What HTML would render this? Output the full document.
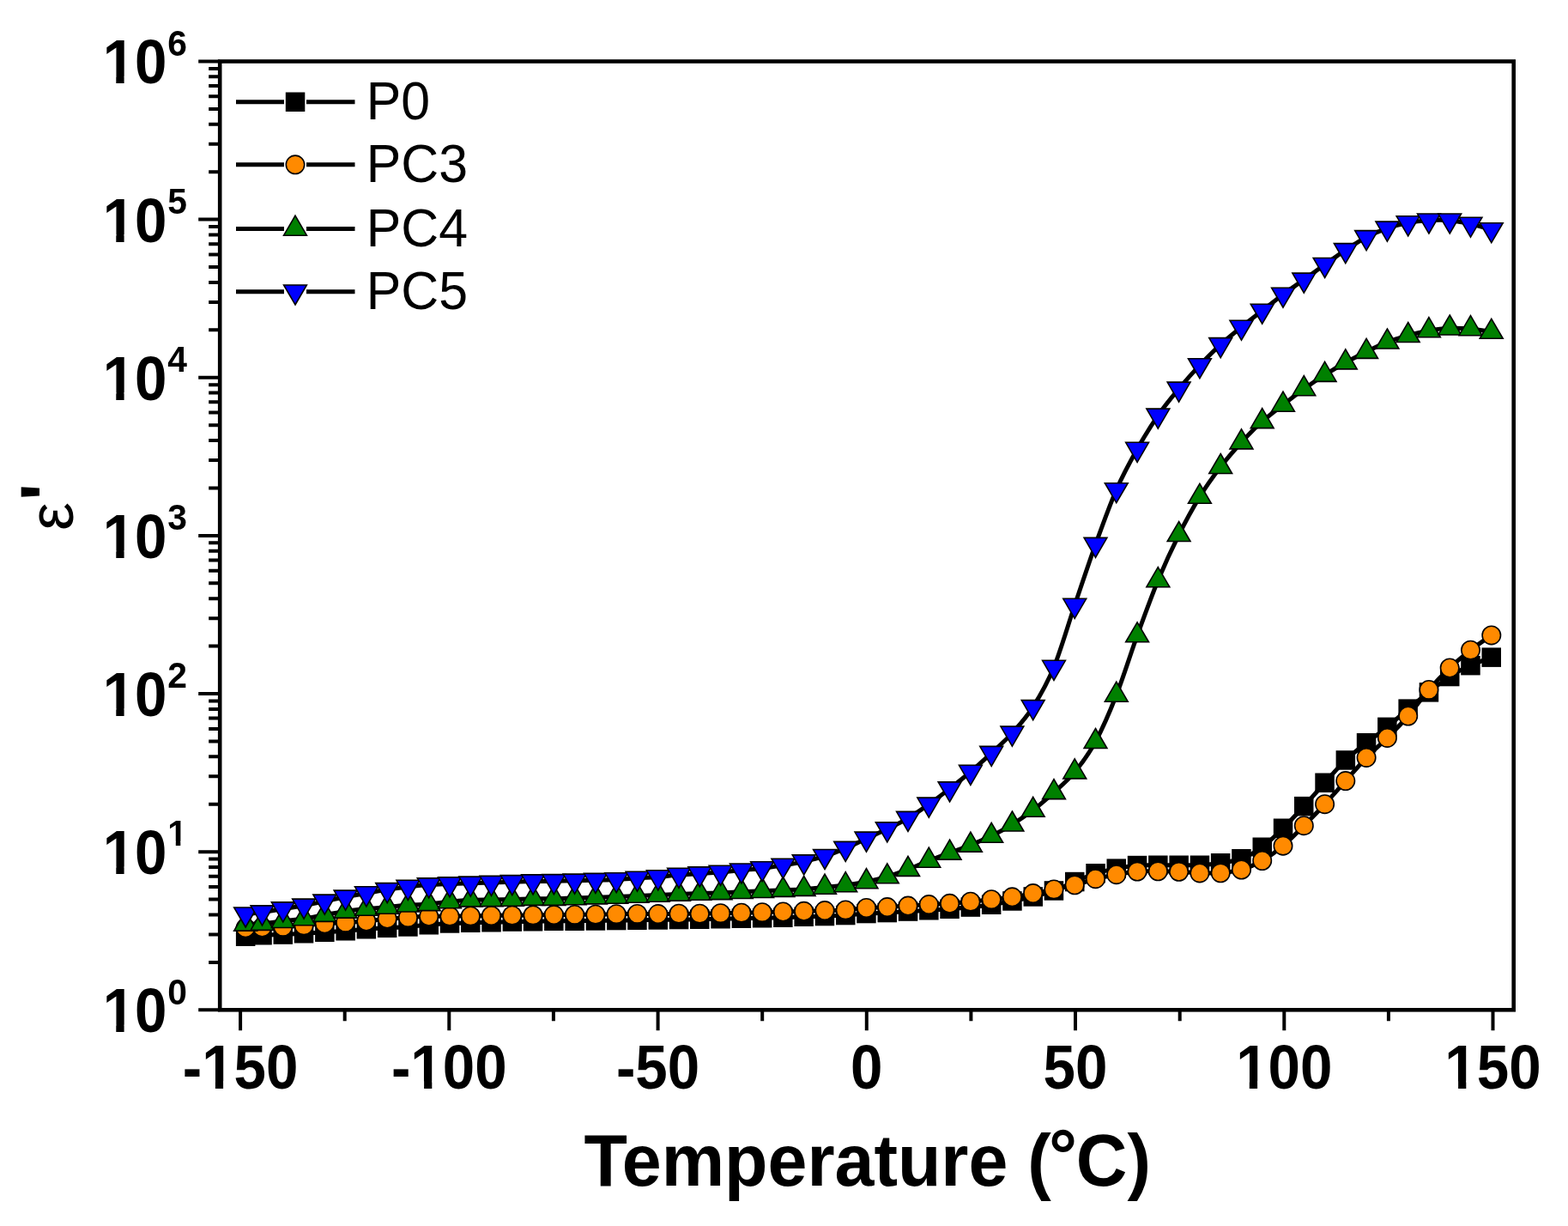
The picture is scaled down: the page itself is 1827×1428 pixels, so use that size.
<!DOCTYPE html>
<html><head><meta charset="utf-8"><title>Plot</title><style>
html,body{margin:0;padding:0;background:#fff;}
body{width:1827px;height:1428px;overflow:hidden;}
svg{display:block;}
text{font-family:"Liberation Sans",Arial,sans-serif;fill:#000;}
.tb{font-size:72px;font-weight:bold;}
.ts{font-size:43px;font-weight:bold;}
.lg{font-size:63px;}
.tt{font-size:86px;font-weight:bold;}

.ye{font-size:74px;}
.pr{font-size:86px;font-weight:bold;}
</style></head><body>
<svg width="1827" height="1428" viewBox="0 0 1827 1428">
<rect width="1827" height="1428" fill="#fff"/>
<rect x="256.2" y="71.5" width="1507.5" height="1104.8" fill="none" stroke="#000" stroke-width="4.6"/>
<path d="M231.2 1176.3H256.2M243.2 1120.9H256.2M243.2 1088.4H256.2M243.2 1065.4H256.2M243.2 1047.6H256.2M243.2 1033H256.2M243.2 1020.7H256.2M243.2 1010H256.2M243.2 1000.6H256.2M231.2 992.2H256.2M243.2 936.7H256.2M243.2 904.3H256.2M243.2 881.3H256.2M243.2 863.5H256.2M243.2 848.9H256.2M243.2 836.6H256.2M243.2 825.9H256.2M243.2 816.5H256.2M231.2 808H256.2M243.2 752.6H256.2M243.2 720.2H256.2M243.2 697.2H256.2M243.2 679.3H256.2M243.2 664.7H256.2M243.2 652.4H256.2M243.2 641.7H256.2M243.2 632.3H256.2M231.2 623.9H256.2M243.2 568.5H256.2M243.2 536H256.2M243.2 513H256.2M243.2 495.2H256.2M243.2 480.6H256.2M243.2 468.3H256.2M243.2 457.6H256.2M243.2 448.2H256.2M231.2 439.8H256.2M243.2 384.3H256.2M243.2 351.9H256.2M243.2 328.9H256.2M243.2 311.1H256.2M243.2 296.5H256.2M243.2 284.2H256.2M243.2 273.5H256.2M243.2 264.1H256.2M231.2 255.6H256.2M243.2 200.2H256.2M243.2 167.8H256.2M243.2 144.8H256.2M243.2 126.9H256.2M243.2 112.3H256.2M243.2 100H256.2M243.2 89.3H256.2M243.2 79.9H256.2M231.2 71.5H256.2M280.1 1176.3V1200.3M401.7 1176.3V1189.3M523.3 1176.3V1200.3M644.9 1176.3V1189.3M766.6 1176.3V1200.3M888.2 1176.3V1189.3M1009.8 1176.3V1200.3M1131.4 1176.3V1189.3M1253 1176.3V1200.3M1374.7 1176.3V1189.3M1496.3 1176.3V1200.3M1617.9 1176.3V1189.3M1739.5 1176.3V1200.3" stroke="#000" stroke-width="4" fill="none"/>
<path d="M286.1 1090.7C289.3 1090.5 298.2 1089.7 305.5 1089.3C312.8 1088.9 321.7 1088.9 329.8 1088.6C337.9 1088.2 346 1087.7 354.1 1087.2C362.2 1086.7 370.3 1086.3 378.3 1085.8C386.4 1085.3 394.5 1084.9 402.6 1084.3C410.7 1083.7 418.8 1082.8 426.9 1082.2C435 1081.6 443.1 1081.3 451.2 1080.8C459.3 1080.3 467.4 1080 475.4 1079.4C483.5 1078.8 491.6 1077.9 499.7 1077.2C507.8 1076.5 515.9 1075.9 524 1075.5C532.1 1075.1 540.2 1075 548.3 1074.8C556.4 1074.6 564.5 1074.5 572.5 1074.3C580.6 1074.1 588.7 1073.8 596.8 1073.6C604.9 1073.4 613 1073.4 621.1 1073.3C629.2 1073.2 637.3 1072.9 645.4 1072.8C653.5 1072.7 661.6 1072.9 669.6 1072.8C677.7 1072.7 685.8 1072.5 693.9 1072.4C702 1072.3 710.1 1072.2 718.2 1072.1C726.3 1072 734.4 1071.9 742.5 1071.8C750.6 1071.7 758.7 1071.5 766.8 1071.4C774.8 1071.3 782.9 1071.2 791 1071.1C799.1 1071 807.2 1070.8 815.3 1070.7C823.4 1070.6 831.5 1070.4 839.6 1070.2C847.7 1070 855.8 1069.9 863.9 1069.7C871.9 1069.5 880 1069.5 888.1 1069.3C896.2 1069.1 904.3 1069 912.4 1068.8C920.5 1068.5 928.6 1068.1 936.7 1067.8C944.8 1067.5 952.9 1067.4 961 1067.1C969 1066.8 977.1 1066.5 985.2 1066C993.3 1065.5 1001.4 1064.5 1009.5 1064C1017.6 1063.5 1025.7 1063.4 1033.8 1063C1041.9 1062.6 1050 1062.1 1058 1061.6C1066.1 1061.1 1074.2 1060.7 1082.3 1060.2C1090.4 1059.7 1098.5 1059.3 1106.6 1058.7C1114.7 1058.1 1122.8 1057.4 1130.9 1056.6C1139 1055.8 1147.1 1054.9 1155.2 1053.7C1163.2 1052.5 1171.3 1051 1179.4 1049.5C1187.5 1048 1195.6 1046.5 1203.7 1044.5C1211.8 1042.5 1219.9 1040.3 1228 1037.4C1236.1 1034.5 1244.2 1030.3 1252.2 1027C1260.3 1023.6 1268.4 1019.9 1276.5 1017.3C1284.6 1014.7 1292.7 1013.1 1300.8 1011.6C1308.9 1010.1 1317 1008.6 1325.1 1008C1333.2 1007.4 1341.3 1007.8 1349.3 1007.7C1357.4 1007.7 1365.5 1007.7 1373.6 1007.7C1381.7 1007.7 1389.8 1008.1 1397.9 1007.7C1406 1007.3 1414.1 1006.5 1422.2 1005.2C1430.3 1004 1438.4 1003.3 1446.5 1000.2C1454.5 997.1 1462.6 992.6 1470.7 986.7C1478.8 980.8 1486.9 972.6 1495 964.7C1503.1 956.8 1511.2 947.9 1519.3 939.1C1527.4 930.3 1535.5 920.6 1543.6 911.7C1551.6 902.8 1559.7 893.2 1567.8 885.5C1575.9 877.8 1584 871.7 1592.1 865.3C1600.2 858.9 1608.3 853.5 1616.4 846.9C1624.5 840.3 1632.6 832.4 1640.7 825.6C1648.7 818.9 1656.8 812.7 1664.9 806.4C1673 800.1 1681.1 793.2 1689.2 788C1697.3 782.8 1705.4 778.8 1713.5 775.1C1721.6 771.4 1733.7 767.2 1737.8 765.6" fill="none" stroke="#000" stroke-width="5" stroke-linejoin="round"/>
<g fill="#000" stroke="none" stroke-width="0"><rect x="274.9" y="1079.5" width="22.5" height="22.5"/><rect x="294.3" y="1078" width="22.5" height="22.5"/><rect x="318.5" y="1077.3" width="22.5" height="22.5"/><rect x="342.8" y="1076" width="22.5" height="22.5"/><rect x="367.1" y="1074.5" width="22.5" height="22.5"/><rect x="391.4" y="1073" width="22.5" height="22.5"/><rect x="415.6" y="1071" width="22.5" height="22.5"/><rect x="439.9" y="1069.5" width="22.5" height="22.5"/><rect x="464.2" y="1068.2" width="22.5" height="22.5"/><rect x="488.5" y="1066" width="22.5" height="22.5"/><rect x="512.8" y="1064.2" width="22.5" height="22.5"/><rect x="537" y="1063.5" width="22.5" height="22.5"/><rect x="561.3" y="1063" width="22.5" height="22.5"/><rect x="585.6" y="1062.3" width="22.5" height="22.5"/><rect x="609.8" y="1062" width="22.5" height="22.5"/><rect x="634.1" y="1061.5" width="22.5" height="22.5"/><rect x="658.4" y="1061.5" width="22.5" height="22.5"/><rect x="682.7" y="1061.2" width="22.5" height="22.5"/><rect x="707" y="1060.8" width="22.5" height="22.5"/><rect x="731.2" y="1060.5" width="22.5" height="22.5"/><rect x="755.5" y="1060.2" width="22.5" height="22.5"/><rect x="779.8" y="1059.8" width="22.5" height="22.5"/><rect x="804" y="1059.5" width="22.5" height="22.5"/><rect x="828.3" y="1059" width="22.5" height="22.5"/><rect x="852.6" y="1058.5" width="22.5" height="22.5"/><rect x="876.9" y="1058" width="22.5" height="22.5"/><rect x="901.1" y="1057.5" width="22.5" height="22.5"/><rect x="925.4" y="1056.5" width="22.5" height="22.5"/><rect x="949.7" y="1055.8" width="22.5" height="22.5"/><rect x="974" y="1054.8" width="22.5" height="22.5"/><rect x="998.2" y="1052.8" width="22.5" height="22.5"/><rect x="1022.5" y="1051.8" width="22.5" height="22.5"/><rect x="1046.8" y="1050.3" width="22.5" height="22.5"/><rect x="1071.1" y="1049" width="22.5" height="22.5"/><rect x="1095.3" y="1047.5" width="22.5" height="22.5"/><rect x="1119.6" y="1045.3" width="22.5" height="22.5"/><rect x="1143.9" y="1042.5" width="22.5" height="22.5"/><rect x="1168.2" y="1038.2" width="22.5" height="22.5"/><rect x="1192.5" y="1033.2" width="22.5" height="22.5"/><rect x="1216.7" y="1026.2" width="22.5" height="22.5"/><rect x="1241" y="1015.8" width="22.5" height="22.5"/><rect x="1265.3" y="1006" width="22.5" height="22.5"/><rect x="1289.5" y="1000.4" width="22.5" height="22.5"/><rect x="1313.8" y="996.8" width="22.5" height="22.5"/><rect x="1338.1" y="996.5" width="22.5" height="22.5"/><rect x="1362.4" y="996.5" width="22.5" height="22.5"/><rect x="1386.7" y="996.5" width="22.5" height="22.5"/><rect x="1410.9" y="994" width="22.5" height="22.5"/><rect x="1435.2" y="989" width="22.5" height="22.5"/><rect x="1459.5" y="975.5" width="22.5" height="22.5"/><rect x="1483.8" y="953.5" width="22.5" height="22.5"/><rect x="1508" y="927.9" width="22.5" height="22.5"/><rect x="1532.3" y="900.5" width="22.5" height="22.5"/><rect x="1556.6" y="874.2" width="22.5" height="22.5"/><rect x="1580.8" y="854" width="22.5" height="22.5"/><rect x="1605.1" y="835.6" width="22.5" height="22.5"/><rect x="1629.4" y="814.4" width="22.5" height="22.5"/><rect x="1653.7" y="795.1" width="22.5" height="22.5"/><rect x="1678" y="776.8" width="22.5" height="22.5"/><rect x="1702.2" y="763.9" width="22.5" height="22.5"/><rect x="1726.5" y="754.4" width="22.5" height="22.5"/></g>

<path d="M286.1 1080.8C289.3 1080.7 298.2 1080.3 305.5 1080.1C312.8 1079.9 321.7 1079.8 329.8 1079.4C337.9 1079 346 1078.5 354.1 1077.9C362.2 1077.3 370.3 1076.4 378.3 1075.8C386.4 1075.2 394.5 1074.9 402.6 1074.4C410.7 1073.9 418.8 1073.7 426.9 1073C435 1072.3 443.1 1070.8 451.2 1070.1C459.3 1069.4 467.4 1069.2 475.4 1068.7C483.5 1068.2 491.6 1067.5 499.7 1067.3C507.8 1067 515.9 1067.3 524 1067.2C532.1 1067.1 540.2 1067 548.3 1066.9C556.4 1066.8 564.5 1066.6 572.5 1066.5C580.6 1066.4 588.7 1066.3 596.8 1066.2C604.9 1066.1 613 1066 621.1 1065.9C629.2 1065.8 637.3 1065.7 645.4 1065.6C653.5 1065.5 661.6 1065.5 669.6 1065.4C677.7 1065.3 685.8 1065.3 693.9 1065.2C702 1065.1 710.1 1064.8 718.2 1064.7C726.3 1064.6 734.4 1064.4 742.5 1064.4C750.6 1064.4 758.7 1064.6 766.8 1064.6C774.8 1064.6 782.9 1064.3 791 1064.2C799.1 1064.1 807.2 1064.3 815.3 1064.2C823.4 1064.1 831.5 1063.9 839.6 1063.7C847.7 1063.5 855.8 1063.4 863.9 1063.2C871.9 1063 880 1062.9 888.1 1062.7C896.2 1062.5 904.3 1062.2 912.4 1062C920.5 1061.8 928.6 1061.5 936.7 1061.3C944.8 1061.1 952.9 1060.8 961 1060.6C969 1060.4 977.1 1060.4 985.2 1059.9C993.3 1059.4 1001.4 1058 1009.5 1057.5C1017.6 1057 1025.7 1057 1033.8 1056.6C1041.9 1056.2 1050 1055.6 1058 1055.1C1066.1 1054.6 1074.2 1054.1 1082.3 1053.6C1090.4 1053.1 1098.5 1052.9 1106.6 1052.3C1114.7 1051.7 1122.8 1051 1130.9 1050.2C1139 1049.4 1147.1 1048.6 1155.2 1047.7C1163.2 1046.8 1171.3 1046 1179.4 1044.8C1187.5 1043.6 1195.6 1042.1 1203.7 1040.6C1211.8 1039.1 1219.9 1037.5 1228 1035.9C1236.1 1034.3 1244.2 1032.8 1252.2 1030.8C1260.3 1028.8 1268.4 1025.7 1276.5 1023.7C1284.6 1021.7 1292.7 1020.1 1300.8 1018.7C1308.9 1017.3 1317 1015.8 1325.1 1015.1C1333.2 1014.5 1341.3 1014.8 1349.3 1014.8C1357.4 1014.8 1365.5 1014.9 1373.6 1015.3C1381.7 1015.6 1389.8 1016.6 1397.9 1016.9C1406 1017.1 1414.1 1017.4 1422.2 1016.8C1430.3 1016.1 1438.4 1015.4 1446.5 1013C1454.5 1010.6 1462.6 1007.1 1470.7 1002.5C1478.8 997.9 1486.9 992 1495 985.2C1503.1 978.4 1511.2 969.8 1519.3 961.7C1527.4 953.6 1535.5 945.4 1543.6 936.7C1551.6 928 1559.7 918.7 1567.8 909.6C1575.9 900.5 1584 890.8 1592.1 882.4C1600.2 874 1608.3 867.5 1616.4 859.4C1624.5 851.3 1632.6 843.3 1640.7 834C1648.7 824.7 1656.8 812.7 1664.9 803.4C1673 794.1 1681.1 785.7 1689.2 778C1697.3 770.3 1705.4 763.6 1713.5 757.2C1721.6 750.9 1733.7 742.8 1737.8 739.9" fill="none" stroke="#000" stroke-width="5" stroke-linejoin="round"/>
<g fill="#FF8A00" stroke="#000" stroke-width="1.6"><circle cx="286.1" cy="1080.8" r="10.7"/><circle cx="305.5" cy="1080.1" r="10.7"/><circle cx="329.8" cy="1079.4" r="10.7"/><circle cx="354.1" cy="1077.9" r="10.7"/><circle cx="378.3" cy="1075.8" r="10.7"/><circle cx="402.6" cy="1074.4" r="10.7"/><circle cx="426.9" cy="1073" r="10.7"/><circle cx="451.2" cy="1070.1" r="10.7"/><circle cx="475.4" cy="1068.7" r="10.7"/><circle cx="499.7" cy="1067.3" r="10.7"/><circle cx="524" cy="1067.2" r="10.7"/><circle cx="548.3" cy="1066.9" r="10.7"/><circle cx="572.5" cy="1066.5" r="10.7"/><circle cx="596.8" cy="1066.2" r="10.7"/><circle cx="621.1" cy="1065.9" r="10.7"/><circle cx="645.4" cy="1065.6" r="10.7"/><circle cx="669.6" cy="1065.4" r="10.7"/><circle cx="693.9" cy="1065.2" r="10.7"/><circle cx="718.2" cy="1064.7" r="10.7"/><circle cx="742.5" cy="1064.4" r="10.7"/><circle cx="766.8" cy="1064.6" r="10.7"/><circle cx="791" cy="1064.2" r="10.7"/><circle cx="815.3" cy="1064.2" r="10.7"/><circle cx="839.6" cy="1063.7" r="10.7"/><circle cx="863.9" cy="1063.2" r="10.7"/><circle cx="888.1" cy="1062.7" r="10.7"/><circle cx="912.4" cy="1062" r="10.7"/><circle cx="936.7" cy="1061.3" r="10.7"/><circle cx="961" cy="1060.6" r="10.7"/><circle cx="985.2" cy="1059.9" r="10.7"/><circle cx="1009.5" cy="1057.5" r="10.7"/><circle cx="1033.8" cy="1056.6" r="10.7"/><circle cx="1058" cy="1055.1" r="10.7"/><circle cx="1082.3" cy="1053.6" r="10.7"/><circle cx="1106.6" cy="1052.3" r="10.7"/><circle cx="1130.9" cy="1050.2" r="10.7"/><circle cx="1155.2" cy="1047.7" r="10.7"/><circle cx="1179.4" cy="1044.8" r="10.7"/><circle cx="1203.7" cy="1040.6" r="10.7"/><circle cx="1228" cy="1035.9" r="10.7"/><circle cx="1252.2" cy="1030.8" r="10.7"/><circle cx="1276.5" cy="1023.7" r="10.7"/><circle cx="1300.8" cy="1018.7" r="10.7"/><circle cx="1325.1" cy="1015.1" r="10.7"/><circle cx="1349.3" cy="1014.8" r="10.7"/><circle cx="1373.6" cy="1015.3" r="10.7"/><circle cx="1397.9" cy="1016.9" r="10.7"/><circle cx="1422.2" cy="1016.8" r="10.7"/><circle cx="1446.5" cy="1013" r="10.7"/><circle cx="1470.7" cy="1002.5" r="10.7"/><circle cx="1495" cy="985.2" r="10.7"/><circle cx="1519.3" cy="961.7" r="10.7"/><circle cx="1543.6" cy="936.7" r="10.7"/><circle cx="1567.8" cy="909.6" r="10.7"/><circle cx="1592.1" cy="882.4" r="10.7"/><circle cx="1616.4" cy="859.4" r="10.7"/><circle cx="1640.7" cy="834" r="10.7"/><circle cx="1664.9" cy="803.4" r="10.7"/><circle cx="1689.2" cy="778" r="10.7"/><circle cx="1713.5" cy="757.2" r="10.7"/><circle cx="1737.8" cy="739.9" r="10.7"/></g>

<path d="M286.1 1076.4C289.3 1076.3 298.2 1076.3 305.5 1075.7C312.8 1075.1 321.7 1073.8 329.8 1072.8C337.9 1071.8 346 1071.2 354.1 1070C362.2 1068.8 370.3 1067.1 378.3 1065.7C386.4 1064.3 394.5 1062.6 402.6 1061.4C410.7 1060.2 418.8 1059.4 426.9 1058.6C435 1057.8 443.1 1057.2 451.2 1056.5C459.3 1055.8 467.4 1054.9 475.4 1054.3C483.5 1053.7 491.6 1053.6 499.7 1052.9C507.8 1052.2 515.9 1050.8 524 1050C532.1 1049.2 540.2 1048.5 548.3 1048.2C556.4 1047.9 564.5 1048 572.5 1047.9C580.6 1047.8 588.7 1047.7 596.8 1047.5C604.9 1047.3 613 1046.8 621.1 1046.7C629.2 1046.6 637.3 1046.8 645.4 1046.7C653.5 1046.6 661.6 1046.2 669.6 1046C677.7 1045.8 685.8 1045.5 693.9 1045.2C702 1045 710.1 1044.8 718.2 1044.5C726.3 1044.2 734.4 1043.8 742.5 1043.5C750.6 1043.2 758.7 1042.8 766.8 1042.5C774.8 1042.2 782.9 1041.7 791 1041.4C799.1 1041.1 807.2 1040.8 815.3 1040.6C823.4 1040.3 831.5 1040.2 839.6 1039.9C847.7 1039.6 855.8 1039.2 863.9 1038.8C871.9 1038.4 880 1038.1 888.1 1037.8C896.2 1037.5 904.3 1037 912.4 1036.7C920.5 1036.4 928.6 1036.2 936.7 1035.7C944.8 1035.2 952.9 1034.3 961 1033.5C969 1032.7 977.1 1032.1 985.2 1031C993.3 1029.9 1001.4 1028.7 1009.5 1027C1017.6 1025.3 1025.7 1023.5 1033.8 1021.1C1041.9 1018.7 1050 1015.8 1058 1012.7C1066.1 1009.6 1074.2 1005.7 1082.3 1002.5C1090.4 999.3 1098.5 996.4 1106.6 993.4C1114.7 990.4 1122.8 987.7 1130.9 984.4C1139 981.1 1147.1 977.6 1155.2 973.6C1163.2 969.6 1171.3 965.3 1179.4 960.3C1187.5 955.3 1195.6 949.8 1203.7 943.6C1211.8 937.4 1219.9 930.3 1228 922.9C1236.1 915.5 1244.2 909.1 1252.2 899.2C1260.3 889.4 1268.4 878.8 1276.5 863.8C1284.6 848.8 1292.7 830.1 1300.8 809.5C1308.9 788.9 1317 762.4 1325.1 740.1C1333.2 717.9 1341.3 695.5 1349.3 676C1357.4 656.5 1365.5 639 1373.6 622.8C1381.7 606.6 1389.8 591.8 1397.9 578.6C1406 565.4 1414.1 554.4 1422.2 543.8C1430.3 533.2 1438.4 524 1446.5 515.2C1454.5 506.4 1462.6 498.2 1470.7 490.9C1478.8 483.6 1486.9 477.8 1495 471.5C1503.1 465.2 1511.2 458.8 1519.3 453C1527.4 447.2 1535.5 441.8 1543.6 436.7C1551.6 431.6 1559.7 426.7 1567.8 422.2C1575.9 417.7 1584 413.7 1592.1 409.7C1600.2 405.7 1608.3 401.4 1616.4 398.3C1624.5 395.2 1632.6 393 1640.7 390.8C1648.7 388.6 1656.8 386.4 1664.9 385C1673 383.6 1681.1 382.6 1689.2 382.3C1697.3 382 1705.4 382.3 1713.5 383C1721.6 383.7 1733.7 386 1737.8 386.6" fill="none" stroke="#000" stroke-width="5" stroke-linejoin="round"/>
<g fill="#008000" stroke="#000" stroke-width="1.6"><path d="M286.1 1061.1L299.5 1084.1L272.7 1084.1Z"/><path d="M305.5 1060.4L318.9 1083.4L292.1 1083.4Z"/><path d="M329.8 1057.5L343.2 1080.5L316.4 1080.5Z"/><path d="M354.1 1054.7L367.5 1077.7L340.7 1077.7Z"/><path d="M378.3 1050.4L391.7 1073.4L364.9 1073.4Z"/><path d="M402.6 1046.1L416 1069.1L389.2 1069.1Z"/><path d="M426.9 1043.3L440.3 1066.3L413.5 1066.3Z"/><path d="M451.2 1041.2L464.6 1064.2L437.8 1064.2Z"/><path d="M475.4 1039L488.8 1062L462 1062Z"/><path d="M499.7 1037.6L513.1 1060.6L486.3 1060.6Z"/><path d="M524 1034.7L537.4 1057.7L510.6 1057.7Z"/><path d="M548.3 1032.9L561.7 1055.9L534.9 1055.9Z"/><path d="M572.5 1032.6L585.9 1055.6L559.1 1055.6Z"/><path d="M596.8 1032.2L610.2 1055.2L583.4 1055.2Z"/><path d="M621.1 1031.4L634.5 1054.4L607.7 1054.4Z"/><path d="M645.4 1031.4L658.8 1054.4L632 1054.4Z"/><path d="M669.6 1030.7L683 1053.7L656.2 1053.7Z"/><path d="M693.9 1029.9L707.3 1052.9L680.5 1052.9Z"/><path d="M718.2 1029.2L731.6 1052.2L704.8 1052.2Z"/><path d="M742.5 1028.2L755.9 1051.2L729.1 1051.2Z"/><path d="M766.8 1027.2L780.1 1050.2L753.4 1050.2Z"/><path d="M791 1026.1L804.4 1049.1L777.6 1049.1Z"/><path d="M815.3 1025.3L828.7 1048.3L801.9 1048.3Z"/><path d="M839.6 1024.6L853 1047.6L826.2 1047.6Z"/><path d="M863.9 1023.5L877.2 1046.5L850.5 1046.5Z"/><path d="M888.1 1022.5L901.5 1045.5L874.7 1045.5Z"/><path d="M912.4 1021.4L925.8 1044.4L899 1044.4Z"/><path d="M936.7 1020.4L950.1 1043.4L923.3 1043.4Z"/><path d="M961 1018.2L974.4 1041.2L947.6 1041.2Z"/><path d="M985.2 1015.7L998.6 1038.7L971.8 1038.7Z"/><path d="M1009.5 1011.7L1022.9 1034.7L996.1 1034.7Z"/><path d="M1033.8 1005.8L1047.2 1028.8L1020.4 1028.8Z"/><path d="M1058 997.4L1071.5 1020.4L1044.6 1020.4Z"/><path d="M1082.3 987.2L1095.7 1010.2L1068.9 1010.2Z"/><path d="M1106.6 978.1L1120 1001.1L1093.2 1001.1Z"/><path d="M1130.9 969.1L1144.3 992.1L1117.5 992.1Z"/><path d="M1155.2 958.3L1168.6 981.3L1141.8 981.3Z"/><path d="M1179.4 945L1192.8 968L1166 968Z"/><path d="M1203.7 928.3L1217.1 951.3L1190.3 951.3Z"/><path d="M1228 907.6L1241.4 930.6L1214.6 930.6Z"/><path d="M1252.2 883.9L1265.7 906.9L1238.8 906.9Z"/><path d="M1276.5 848.5L1289.9 871.5L1263.1 871.5Z"/><path d="M1300.8 794.2L1314.2 817.2L1287.4 817.2Z"/><path d="M1325.1 724.8L1338.5 747.8L1311.7 747.8Z"/><path d="M1349.3 660.7L1362.8 683.7L1335.9 683.7Z"/><path d="M1373.6 607.5L1387 630.5L1360.2 630.5Z"/><path d="M1397.9 563.3L1411.3 586.3L1384.5 586.3Z"/><path d="M1422.2 528.5L1435.6 551.5L1408.8 551.5Z"/><path d="M1446.5 499.9L1459.9 522.9L1433 522.9Z"/><path d="M1470.7 475.6L1484.1 498.6L1457.3 498.6Z"/><path d="M1495 456.2L1508.4 479.2L1481.6 479.2Z"/><path d="M1519.3 437.7L1532.7 460.7L1505.9 460.7Z"/><path d="M1543.6 421.4L1557 444.4L1530.2 444.4Z"/><path d="M1567.8 406.9L1581.2 429.9L1554.4 429.9Z"/><path d="M1592.1 394.4L1605.5 417.4L1578.7 417.4Z"/><path d="M1616.4 383L1629.8 406L1603 406Z"/><path d="M1640.7 375.5L1654.1 398.5L1627.2 398.5Z"/><path d="M1664.9 369.7L1678.3 392.7L1651.5 392.7Z"/><path d="M1689.2 367L1702.6 390L1675.8 390Z"/><path d="M1713.5 367.7L1726.9 390.7L1700.1 390.7Z"/><path d="M1737.8 371.3L1751.2 394.3L1724.3 394.3Z"/></g>

<path d="M286.1 1064.7C289.3 1064.3 298.2 1063.6 305.5 1062.6C312.8 1061.6 321.7 1059.9 329.8 1058.6C337.9 1057.3 346 1056.3 354.1 1054.8C362.2 1053.3 370.3 1051.5 378.3 1049.8C386.4 1048.1 394.5 1046.3 402.6 1044.8C410.7 1043.2 418.8 1041.9 426.9 1040.5C435 1039.1 443.1 1037.5 451.2 1036.3C459.3 1035 467.4 1034 475.4 1033C483.5 1032 491.6 1031.2 499.7 1030.6C507.8 1030 515.9 1029.9 524 1029.6C532.1 1029.3 540.2 1029 548.3 1028.8C556.4 1028.5 564.5 1028.3 572.5 1028.1C580.6 1027.8 588.7 1027.5 596.8 1027.3C604.9 1027 613 1026.8 621.1 1026.6C629.2 1026.4 637.3 1026.4 645.4 1026.3C653.5 1026.2 661.6 1026 669.6 1025.8C677.7 1025.6 685.8 1025.3 693.9 1025.1C702 1024.9 710.1 1024.8 718.2 1024.4C726.3 1024 734.4 1023.4 742.5 1022.9C750.6 1022.4 758.7 1022.1 766.8 1021.5C774.8 1020.9 782.9 1019.6 791 1019C799.1 1018.4 807.2 1018.1 815.3 1017.6C823.4 1017.1 831.5 1016.6 839.6 1016C847.7 1015.4 855.8 1014.5 863.9 1013.7C871.9 1012.9 880 1012.4 888.1 1011.4C896.2 1010.4 904.3 1009.2 912.4 1007.9C920.5 1006.6 928.6 1005.4 936.7 1003.6C944.8 1001.8 952.9 999.8 961 997.2C969 994.6 977.1 991.5 985.2 988.1C993.3 984.7 1001.4 980.5 1009.5 976.8C1017.6 973 1025.7 969.5 1033.8 965.6C1041.9 961.7 1050 957.9 1058 953.1C1066.1 948.3 1074.2 942.5 1082.3 936.8C1090.4 931 1098.5 924.9 1106.6 918.6C1114.7 912.3 1122.8 905.9 1130.9 899C1139 892.1 1147.1 884.6 1155.2 877.1C1163.2 869.6 1171.3 862.8 1179.4 853.8C1187.5 844.8 1195.6 836.1 1203.7 823.3C1211.8 810.5 1219.9 796.7 1228 777C1236.1 757.3 1244.2 728.8 1252.2 705C1260.3 681.2 1268.4 656.5 1276.5 634.1C1284.6 611.7 1292.7 588.9 1300.8 570.4C1308.9 551.9 1317 537.4 1325.1 523C1333.2 508.6 1341.3 495.5 1349.3 483.8C1357.4 472.1 1365.5 462.5 1373.6 452.8C1381.7 443.1 1389.8 434 1397.9 425.4C1406 416.8 1414.1 408.7 1422.2 401.3C1430.3 393.9 1438.4 387.5 1446.5 380.9C1454.5 374.3 1462.6 368.2 1470.7 361.9C1478.8 355.6 1486.9 348.9 1495 342.9C1503.1 336.9 1511.2 331.6 1519.3 325.8C1527.4 320 1535.5 313.9 1543.6 308.2C1551.6 302.4 1559.7 296.6 1567.8 291.3C1575.9 286 1584 280.6 1592.1 276.3C1600.2 272.1 1608.3 268.6 1616.4 265.8C1624.5 263 1632.6 261 1640.7 259.5C1648.7 258 1656.8 257.2 1664.9 256.7C1673 256.2 1681.1 256 1689.2 256.7C1697.3 257.4 1705.4 259.1 1713.5 260.9C1721.6 262.7 1733.7 266.3 1737.8 267.4" fill="none" stroke="#000" stroke-width="5" stroke-linejoin="round"/>
<g fill="#0000FF" stroke="#000" stroke-width="1.6"><path d="M286.1 1080L299.5 1057L272.7 1057Z"/><path d="M305.5 1077.9L318.9 1054.9L292.1 1054.9Z"/><path d="M329.8 1073.9L343.2 1050.9L316.4 1050.9Z"/><path d="M354.1 1070.1L367.5 1047.1L340.7 1047.1Z"/><path d="M378.3 1065.1L391.7 1042.1L364.9 1042.1Z"/><path d="M402.6 1060.1L416 1037.1L389.2 1037.1Z"/><path d="M426.9 1055.8L440.3 1032.8L413.5 1032.8Z"/><path d="M451.2 1051.6L464.6 1028.6L437.8 1028.6Z"/><path d="M475.4 1048.3L488.8 1025.3L462 1025.3Z"/><path d="M499.7 1045.9L513.1 1022.9L486.3 1022.9Z"/><path d="M524 1044.9L537.4 1021.9L510.6 1021.9Z"/><path d="M548.3 1044.1L561.7 1021.1L534.9 1021.1Z"/><path d="M572.5 1043.4L585.9 1020.4L559.1 1020.4Z"/><path d="M596.8 1042.6L610.2 1019.6L583.4 1019.6Z"/><path d="M621.1 1041.9L634.5 1018.9L607.7 1018.9Z"/><path d="M645.4 1041.6L658.8 1018.6L632 1018.6Z"/><path d="M669.6 1041.1L683 1018.1L656.2 1018.1Z"/><path d="M693.9 1040.4L707.3 1017.4L680.5 1017.4Z"/><path d="M718.2 1039.7L731.6 1016.7L704.8 1016.7Z"/><path d="M742.5 1038.2L755.9 1015.2L729.1 1015.2Z"/><path d="M766.8 1036.8L780.1 1013.8L753.4 1013.8Z"/><path d="M791 1034.3L804.4 1011.3L777.6 1011.3Z"/><path d="M815.3 1032.9L828.7 1009.9L801.9 1009.9Z"/><path d="M839.6 1031.3L853 1008.3L826.2 1008.3Z"/><path d="M863.9 1029L877.2 1006L850.5 1006Z"/><path d="M888.1 1026.7L901.5 1003.7L874.7 1003.7Z"/><path d="M912.4 1023.2L925.8 1000.2L899 1000.2Z"/><path d="M936.7 1018.9L950.1 995.9L923.3 995.9Z"/><path d="M961 1012.5L974.4 989.5L947.6 989.5Z"/><path d="M985.2 1003.4L998.6 980.4L971.8 980.4Z"/><path d="M1009.5 992.1L1022.9 969.1L996.1 969.1Z"/><path d="M1033.8 980.9L1047.2 957.9L1020.4 957.9Z"/><path d="M1058 968.4L1071.5 945.4L1044.6 945.4Z"/><path d="M1082.3 952.1L1095.7 929.1L1068.9 929.1Z"/><path d="M1106.6 933.9L1120 910.9L1093.2 910.9Z"/><path d="M1130.9 914.3L1144.3 891.3L1117.5 891.3Z"/><path d="M1155.2 892.4L1168.6 869.4L1141.8 869.4Z"/><path d="M1179.4 869.1L1192.8 846.1L1166 846.1Z"/><path d="M1203.7 838.6L1217.1 815.6L1190.3 815.6Z"/><path d="M1228 792.3L1241.4 769.3L1214.6 769.3Z"/><path d="M1252.2 720.3L1265.7 697.3L1238.8 697.3Z"/><path d="M1276.5 649.4L1289.9 626.4L1263.1 626.4Z"/><path d="M1300.8 585.7L1314.2 562.7L1287.4 562.7Z"/><path d="M1325.1 538.3L1338.5 515.3L1311.7 515.3Z"/><path d="M1349.3 499.1L1362.8 476.1L1335.9 476.1Z"/><path d="M1373.6 468.1L1387 445.1L1360.2 445.1Z"/><path d="M1397.9 440.7L1411.3 417.7L1384.5 417.7Z"/><path d="M1422.2 416.6L1435.6 393.6L1408.8 393.6Z"/><path d="M1446.5 396.2L1459.9 373.2L1433 373.2Z"/><path d="M1470.7 377.2L1484.1 354.2L1457.3 354.2Z"/><path d="M1495 358.2L1508.4 335.2L1481.6 335.2Z"/><path d="M1519.3 341.1L1532.7 318.1L1505.9 318.1Z"/><path d="M1543.6 323.5L1557 300.5L1530.2 300.5Z"/><path d="M1567.8 306.6L1581.2 283.6L1554.4 283.6Z"/><path d="M1592.1 291.6L1605.5 268.6L1578.7 268.6Z"/><path d="M1616.4 281.1L1629.8 258.1L1603 258.1Z"/><path d="M1640.7 274.8L1654.1 251.8L1627.2 251.8Z"/><path d="M1664.9 272L1678.3 249L1651.5 249Z"/><path d="M1689.2 272L1702.6 249L1675.8 249Z"/><path d="M1713.5 276.2L1726.9 253.2L1700.1 253.2Z"/><path d="M1737.8 282.7L1751.2 259.7L1724.3 259.7Z"/></g>

<path d="M275 118.7H331M357 118.7H413.5" stroke="#000" stroke-width="5"/>
<g fill="#000"><rect x="332.8" y="107.5" width="22.5" height="22.5"/></g>
<text transform="translate(426.8,138.7) scale(0.965,1)" class="lg">P0</text>
<path d="M275 191.8H331M357 191.8H413.5" stroke="#000" stroke-width="5"/>
<g fill="#FF8A00" stroke="#000" stroke-width="1.6"><circle cx="344" cy="191.8" r="10.7"/></g>
<text transform="translate(426.8,211.8) scale(0.965,1)" class="lg">PC3</text>
<path d="M275 266.5H331M357 266.5H413.5" stroke="#000" stroke-width="5"/>
<g fill="#008000" stroke="#000" stroke-width="1.6"><path d="M344 251.2L357.4 274.2L330.6 274.2Z"/></g>
<text transform="translate(426.8,286.5) scale(0.965,1)" class="lg">PC4</text>
<path d="M275 339.7H331M357 339.7H413.5" stroke="#000" stroke-width="5"/>
<g fill="#0000FF" stroke="#000" stroke-width="1.6"><path d="M344 355L357.4 332L330.6 332Z"/></g>
<text transform="translate(426.8,359.7) scale(0.965,1)" class="lg">PC5</text>
<text transform="translate(194.5,1202.2) scale(0.935,1)" text-anchor="end" class="tb">10</text>
<text transform="translate(195.2,1169.5) scale(0.95,1)" class="ts">0</text>
<text transform="translate(194.5,1018.1) scale(0.935,1)" text-anchor="end" class="tb">10</text>
<text transform="translate(195.2,985.4) scale(0.95,1)" class="ts">1</text>
<text transform="translate(194.5,833.9) scale(0.935,1)" text-anchor="end" class="tb">10</text>
<text transform="translate(195.2,801.2) scale(0.95,1)" class="ts">2</text>
<text transform="translate(194.5,649.8) scale(0.935,1)" text-anchor="end" class="tb">10</text>
<text transform="translate(195.2,617.1) scale(0.95,1)" class="ts">3</text>
<text transform="translate(194.5,465.7) scale(0.935,1)" text-anchor="end" class="tb">10</text>
<text transform="translate(195.2,433) scale(0.95,1)" class="ts">4</text>
<text transform="translate(194.5,281.5) scale(0.935,1)" text-anchor="end" class="tb">10</text>
<text transform="translate(195.2,248.8) scale(0.95,1)" class="ts">5</text>
<text transform="translate(194.5,97.4) scale(0.935,1)" text-anchor="end" class="tb">10</text>
<text transform="translate(195.2,64.7) scale(0.95,1)" class="ts">6</text>
<text transform="translate(280.1,1267.8) scale(0.935,1)" text-anchor="middle" class="tb">-150</text>
<text transform="translate(523.3,1267.8) scale(0.935,1)" text-anchor="middle" class="tb">-100</text>
<text transform="translate(766.6,1267.8) scale(0.935,1)" text-anchor="middle" class="tb">-50</text>
<text transform="translate(1009.8,1267.8) scale(0.935,1)" text-anchor="middle" class="tb">0</text>
<text transform="translate(1253,1267.8) scale(0.935,1)" text-anchor="middle" class="tb">50</text>
<text transform="translate(1496.3,1267.8) scale(0.935,1)" text-anchor="middle" class="tb">100</text>
<text transform="translate(1739.5,1267.8) scale(0.935,1)" text-anchor="middle" class="tb">150</text>
<g fill="#fff"><rect x="122.5" y="1193.7" width="12.8" height="9.7"/><rect x="144.6" y="1193.7" width="11.9" height="9.7"/><rect x="122.5" y="1009.5" width="12.8" height="9.7"/><rect x="144.6" y="1009.5" width="11.9" height="9.7"/><rect x="122.5" y="825.4" width="12.8" height="9.7"/><rect x="144.6" y="825.4" width="11.9" height="9.7"/><rect x="122.5" y="641.3" width="12.8" height="9.7"/><rect x="144.6" y="641.3" width="11.9" height="9.7"/><rect x="122.5" y="457.1" width="12.8" height="9.7"/><rect x="144.6" y="457.1" width="11.9" height="9.7"/><rect x="122.5" y="273" width="12.8" height="9.7"/><rect x="144.6" y="273" width="11.9" height="9.7"/><rect x="122.5" y="88.9" width="12.8" height="9.7"/><rect x="144.6" y="88.9" width="11.9" height="9.7"/><rect x="197" y="979.8" width="7.8" height="6.8"/><rect x="210.3" y="979.8" width="7.2" height="6.8"/><rect x="238.1" y="1259.3" width="12.8" height="9.7"/><rect x="260.1" y="1259.3" width="11.9" height="9.7"/><rect x="481.3" y="1259.3" width="12.8" height="9.7"/><rect x="503.3" y="1259.3" width="11.9" height="9.7"/><rect x="1443" y="1259.3" width="12.8" height="9.7"/><rect x="1465.1" y="1259.3" width="11.9" height="9.7"/><rect x="1686.3" y="1259.3" width="12.8" height="9.7"/><rect x="1708.3" y="1259.3" width="11.9" height="9.7"/></g>
<text transform="translate(680.5,1380.8) scale(0.96,1)" class="tt">Temperature (<tspan dy="-6" dx="-3">°</tspan><tspan dy="6" dx="-1.2">C)</tspan></text>
<text transform="translate(84.6,618) rotate(-90)" class="ye">ε<tspan class="pr" dx="1.7" dy="-1.5">'</tspan></text>
</svg>
</body></html>
